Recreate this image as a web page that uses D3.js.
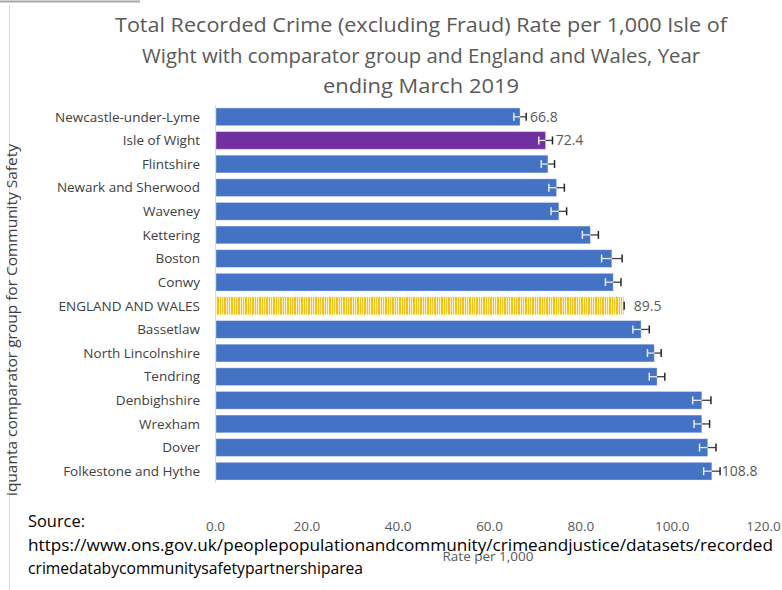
<!DOCTYPE html>
<html>
<head>
<meta charset="utf-8">
<script src="https://cdn.jsdelivr.net/npm/d3@7"></script>
<style>
  body { margin: 0; background: #fff; }
  svg { display: block; font-family: "Open Sans", "Noto Sans", sans-serif; }
</style>
</head>
<body>
<script>
// Chart data
const categories = [
  "Newcastle-under-Lyme", "Isle of Wight", "Flintshire", "Newark and Sherwood",
  "Waveney", "Kettering", "Boston", "Conwy", "ENGLAND AND WALES", "Bassetlaw",
  "North Lincolnshire", "Tendring", "Denbighshire", "Wrexham", "Dover", "Folkestone and Hythe"
];
const rates = [66.8, 72.4, 72.9, 74.8, 75.3, 82.2, 86.9, 87.2, 89.5, 93.3, 96.2, 96.8, 106.6, 106.6, 107.9, 108.8];
const errors = [1.35, 1.5, 1.45, 1.7, 1.7, 1.75, 2.25, 1.7, 0.1, 1.8, 1.5, 1.7, 2.0, 1.7, 1.8, 1.8];
const shownLabels = ["66.8", "72.4", "", "", "", "", "", "", "89.5", "", "", "", "", "", "", "108.8"];
const xTicks = [0, 20, 40, 60, 80, 100, 120];

const titleLines = [
  "Total Recorded Crime (excluding Fraud) Rate per 1,000 Isle of",
  "Wight with comparator group and England and Wales, Year",
  "ending March 2019"
];
const sourceLines = [
  "Source:",
  "https://www.ons.gov.uk/peoplepopulationandcommunity/crimeandjustice/datasets/recorded",
  "crimedatabycommunitysafetypartnershiparea"
];

// Dimensions
const width = 782;
const height = 590;
const marginLeft = 215;
const plotRight = 763;
const plotTop = 105;
const plotBottom = 483;

const x = d3.scaleLinear().domain([0, 120]).range([marginLeft, plotRight]);
const y = d3.scaleBand().domain(categories).range([plotTop, plotBottom]).paddingInner(0.25).paddingOuter(0.125);

const svg = d3.select("body").append("svg")
  .attr("width", width)
  .attr("height", height);

// pattern for England and Wales
const defs = svg.append("defs");
const pat = defs.append("pattern")
  .attr("id", "stripes")
  .attr("patternUnits", "userSpaceOnUse")
  .attr("width", 7)
  .attr("height", 10);
pat.append("rect").attr("width", 7).attr("height", 10).attr("fill", "#fff2cc");
pat.append("rect").attr("x", 0).attr("width", 2).attr("height", 10).attr("fill", "#ffc000");
pat.append("rect").attr("x", 3).attr("width", 1).attr("height", 10).attr("fill", "#ffc000");
pat.append("rect").attr("x", 5).attr("width", 1).attr("height", 10).attr("fill", "#f5c242");

// frame bits from the surrounding document
svg.append("line").attr("x1", 0).attr("x2", 140).attr("y1", 1.5).attr("y2", 1.5)
  .attr("stroke", "#a6a6a6").attr("stroke-width", 2);
svg.append("line").attr("x1", 9.5).attr("x2", 9.5).attr("y1", 5).attr("y2", height)
  .attr("stroke", "#d9d9d9");

// Title
svg.append("g").selectAll("text")
  .data(titleLines)
  .join("text")
  .attr("x", 421)
  .attr("y", (d, i) => 32 + i * 30.5)
  .attr("text-anchor", "middle")
  .attr("font-size", 20)
  .attr("fill", "#595959")
  .attr("textLength", (d, i) => [612, 558, 196][i])
  .attr("lengthAdjust", "spacingAndGlyphs")
  .text(d => d);

// Axis line
svg.append("line")
  .attr("x1", x(0) + 0.5).attr("x2", x(0) + 0.5)
  .attr("y1", plotTop).attr("y2", plotBottom)
  .attr("stroke", "#d9d9d9");

// Bars
svg.append("g").selectAll("rect")
  .data(categories)
  .join("rect")
  .attr("x", x(0) + 1)
  .attr("y", d => y(d))
  .attr("width", (d, i) => x(rates[i]) - x(0) - 1)
  .attr("height", y.bandwidth())
  .attr("fill", (d, i) => i === 1 ? "#7030a0" : i === 8 ? "url(#stripes)" : "#4472c4")
  .attr("stroke", (d, i) => i === 8 ? "none" : "#ffffff")
  .attr("stroke-opacity", 0.35)
  .attr("stroke-width", 1);

// Error bars: part over bar light, part outside dark
const errG = svg.append("g");
categories.forEach((c, i) => {
  const cy = y(c) + y.bandwidth() / 2;
  const lo = x(rates[i] - errors[i]);
  const hi = x(rates[i] + errors[i]);
  const mid = x(rates[i]);
  if (i === 8) {
    errG.append("line").attr("x1", hi).attr("x2", hi).attr("y1", cy - 4).attr("y2", cy + 4)
      .attr("stroke", "#262626").attr("stroke-width", 1.5);
    return;
  }
  errG.append("line").attr("x1", lo).attr("x2", mid).attr("y1", cy).attr("y2", cy)
    .attr("stroke", "#e8ecf4").attr("stroke-width", 1.3);
  errG.append("line").attr("x1", mid).attr("x2", hi).attr("y1", cy).attr("y2", cy)
    .attr("stroke", "#404040").attr("stroke-width", 1.3);
  errG.append("line").attr("x1", lo).attr("x2", lo).attr("y1", cy - 4).attr("y2", cy + 4)
    .attr("stroke", "#e8ecf4").attr("stroke-width", 1.5);
  errG.append("line").attr("x1", hi).attr("x2", hi).attr("y1", cy - 4).attr("y2", cy + 4)
    .attr("stroke", "#262626").attr("stroke-width", 1.5);
});

// Value labels
svg.append("g").selectAll("text")
  .data(categories)
  .join("text")
  .attr("x", (d, i) => x(rates[i]) + 10)
  .attr("y", d => y(d) + y.bandwidth() / 2)
  .attr("dy", "0.35em")
  .attr("font-size", 14)
  .attr("fill", "#595959")
  .text((d, i) => shownLabels[i]);

// Category labels
svg.append("g").selectAll("text")
  .data(categories)
  .join("text")
  .attr("x", 200)
  .attr("y", d => y(d) + y.bandwidth() / 2)
  .attr("dy", "0.35em")
  .attr("text-anchor", "end")
  .attr("font-size", 13.5)
  .attr("fill", "#404040")
  .text(d => d);

// X axis tick labels
const xAxis = d3.axisBottom(x).tickValues(xTicks).tickFormat(d3.format(".1f")).tickSize(0).tickPadding(0);
const gx = svg.append("g")
  .attr("transform", `translate(0,${plotBottom + 38})`)
  .call(xAxis);
gx.select(".domain").remove();
gx.selectAll("text")
  .attr("font-family", "'Open Sans', sans-serif")
  .attr("font-size", 13.5)
  .attr("fill", "#595959");

// Axis titles
svg.append("text")
  .attr("x", 488)
  .attr("y", 561)
  .attr("text-anchor", "middle")
  .attr("font-size", 13.5)
  .attr("fill", "#595959")
  .text("Rate per 1,000");

svg.append("text")
  .attr("transform", "translate(17,320) rotate(-90)")
  .attr("text-anchor", "middle")
  .attr("font-size", 14.5)
  .attr("fill", "#404040")
  .attr("textLength", 352)
  .attr("lengthAdjust", "spacingAndGlyphs")
  .text("iquanta comparator group for Community Safety");

// Source
svg.append("g").selectAll("text")
  .data(sourceLines)
  .join("text")
  .attr("x", 28)
  .attr("y", (d, i) => 527 + i * 23.5)
  .attr("font-size", 17)
  .attr("fill", "#000")
  .attr("textLength", (d, i) => [57, 745, 335][i])
  .attr("lengthAdjust", "spacingAndGlyphs")
  .text(d => d);
</script>
</body>
</html>
